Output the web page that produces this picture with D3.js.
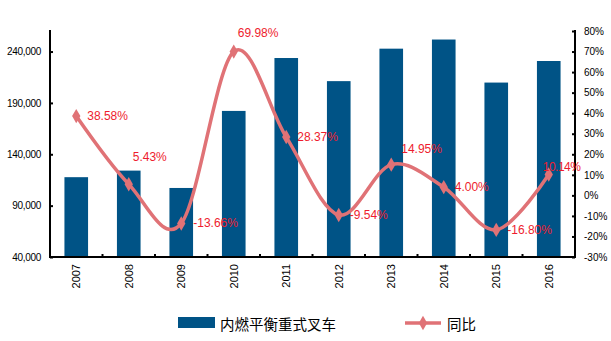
<!DOCTYPE html>
<html><head><meta charset="utf-8">
<script src="https://cdn.jsdelivr.net/npm/d3@7"></script>
<style>body{margin:0;background:#fff}svg{display:block}</style>
</head><body>
<svg id="c" width="611" height="341"></svg>
<script>
const years = ["2007","2008","2009","2010","2011","2012","2013","2014","2015","2016"];
const volume = [117700,124100,107200,182200,233700,211200,242800,251700,209800,230800];
const growth = [0.3858,0.0543,-0.1366,0.6998,0.2837,-0.0954,0.1495,0.0400,-0.1680,0.1014];
const growthLabels = ["38.58%","5.43%","-13.66%","69.98%","28.37%","-9.54%","14.95%","4.00%","-16.80%","10.14%"];
const leftTicks = [40000,90000,140000,190000,240000];
const rightTicks = [-0.3,-0.2,-0.1,0,0.1,0.2,0.3,0.4,0.5,0.6,0.7,0.8];
const legendNames = ["内燃平衡重式叉车","同比"];

const svg = d3.select("#c");
const L = 50, R = 575, T = 31, B = 257;
const x = d3.scaleBand().domain(years).range([L, R]).paddingInner(0.55).paddingOuter(0.275);
const xc = d3.scaleBand().domain(years).range([L, R]);
const yL = d3.scaleLinear().domain([40000, 260000]).range([B, T]);
const yR = d3.scaleLinear().domain([-0.3, 0.8]).range([B, T]);
const barColor = "#005386", lineColor = "#E07276", labColor = "#EE1C2E";

// bars
svg.selectAll("rect.bar").data(years).join("rect").attr("class","bar")
  .attr("x", d => x(d)).attr("width", x.bandwidth())
  .attr("y", (d,i) => yL(volume[i])).attr("height", (d,i) => B - yL(volume[i]))
  .attr("fill", barColor);

// axes
const fnt = "'Liberation Sans', Arial, sans-serif";
const axL = svg.append("g").attr("transform", `translate(${L},0)`)
  .call(d3.axisLeft(yL).tickValues(leftTicks).tickSizeInner(-3).tickSizeOuter(0).tickPadding(9).tickFormat(d3.format(",")));
const axR = svg.append("g").attr("transform", `translate(${R},0)`)
  .call(d3.axisRight(yR).tickValues(rightTicks).tickSizeInner(-3).tickSizeOuter(0).tickPadding(9).tickFormat(d => Math.round(d*100) + "%"));
[axL, axR].forEach(a => {
  a.select(".domain").attr("stroke","#000").attr("stroke-width",2);
  a.selectAll(".tick line").attr("stroke","#000").attr("stroke-width",2);
  a.selectAll("text").attr("font-family", fnt).attr("font-size", 10).attr("fill","#000");
});
axL.selectAll("text").attr("letter-spacing","-0.3px");
axL.select(".domain").attr("d", `M0,${T-1}V${B+1}`);
axR.select(".domain").attr("d", `M0,${T-1}V${B+1}`);

// x axis
const axX = svg.append("g").attr("transform", `translate(0,${B})`);
axX.append("line").attr("x1", L).attr("x2", R).attr("stroke","#000").attr("stroke-width",2);
axX.selectAll("line.tk").data(years.slice(1)).join("line").attr("class","tk")
  .attr("x1", d => xc(d)).attr("x2", d => xc(d)).attr("y1", 0).attr("y2", -3)
  .attr("stroke","#000").attr("stroke-width",2);
axX.selectAll("text").data(years).join("text")
  .attr("transform", d => `translate(${xc(d) + xc.bandwidth()/2 + 4},7) rotate(-90)`)
  .attr("text-anchor","end").attr("font-family", fnt).attr("font-size", 11).attr("fill","#000")
  .text(d => d);

// line
const cx = d => xc(d) + xc.bandwidth()/2;
const pts = years.map((d,i) => [cx(d), yR(growth[i])]);
svg.append("path").attr("d", d3.line().curve(d3.curveCardinal.tension(0))(pts))
  .attr("fill","none").attr("stroke", lineColor).attr("stroke-width", 3.5);
const diamond = d3.symbol().type(d3.symbolDiamond).size(60);
svg.selectAll("path.mk").data(pts).join("path").attr("class","mk")
  .attr("transform", d => `translate(${d[0]},${d[1]})`).attr("d", diamond()).attr("fill", lineColor);

// labels: offsets relative to point (left x, vertical centre)
const off = [[11,0],[4,-27],[12,0],[4,-19],[11,0],[11,0],[10,-16],[11,0],[11,0],[-6,-8]];
svg.selectAll("text.lab").data(pts).join("text").attr("class","lab")
  .attr("x", (d,i) => d[0] + off[i][0]).attr("y", (d,i) => d[1] + off[i][1] + 4)
  .attr("font-family", fnt).attr("font-size", 12).attr("fill", labColor)
  .attr("letter-spacing", (d,i) => i === 9 ? "-0.5px" : null)
  .text((d,i) => growthLabels[i]);

// legend
const lg = svg.append("g");
lg.append("rect").attr("x",178).attr("y",317).attr("width",37).attr("height",11).attr("fill",barColor);
lg.append("text").attr("x",220).attr("y",330).attr("font-family","'Noto Sans CJK SC', sans-serif")
  .attr("font-size",14.5).attr("fill","#000").text(legendNames[0]);
lg.append("line").attr("x1",405).attr("x2",441).attr("y1",323).attr("y2",323).attr("stroke",lineColor).attr("stroke-width",3.5);
lg.append("path").attr("transform","translate(423,323)").attr("d", diamond()).attr("fill",lineColor);
lg.append("text").attr("x",447).attr("y",330).attr("font-family","'Noto Sans CJK SC', sans-serif")
  .attr("font-size",14.5).attr("fill","#000").text(legendNames[1]);
</script>
</body></html>
